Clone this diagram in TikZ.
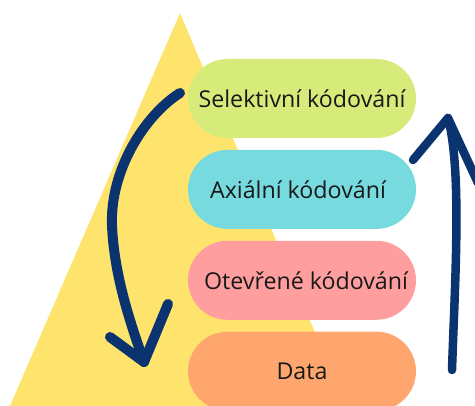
\documentclass[tikz,border=0pt]{standalone}
\usepackage{fontspec}
\setmainfont{Open Sans}
\usetikzlibrary{positioning}
\definecolor{pyrcol}{HTML}{FEE46C}
\definecolor{selcol}{HTML}{D6EB7A}
\definecolor{axcol}{HTML}{76DADF}
\definecolor{otcol}{HTML}{FE9E9E}
\definecolor{datacol}{HTML}{FEA66E}
\definecolor{arrcol}{HTML}{0B3370}

\begin{document}
\begin{tikzpicture}[x=1pt, y=-1pt, font=\fontsize{23.2}{27}\selectfont,
	    pill/.style={rectangle, rounded corners=39.5pt, minimum width=228pt, minimum height=79pt, inner sep=0pt, text=black!90},
	    brush/.style={draw=arrcol, line width=10pt, line cap=round, line join=round}]
	    \clip (0,0) rectangle (475,406);
	
		\fill[pyrcol] (180,13) -- (346,406) -- (10,406) -- cycle;  % pyramid
		
		\node[pill, fill=selcol] (sel) at (302,98.5) {Selektivní kódování};
		\node[pill, fill=axcol, below=11.5pt of sel] (ax) {Axiální kódování\kern8pt};
		\node[pill, fill=otcol, below=11.5pt of ax] (ot) {\kern8pt Otevřené kódování};
		\node[pill, fill=datacol, below=11.5pt of ot] (data) {Data};
		
		% down arrow
		\coordinate (dstart) at (180,93);
		\coordinate (dmid) at (112,225);
		\coordinate (dtip) at (144,362);
		\draw[brush] (dstart) .. controls (145,115) and (110,170) .. (dmid)
			.. controls (114,275) and (130,322) .. (dtip);
		\draw[brush] (110,337) -- (dtip) -- (168,304);
		
		% up arrow
		\coordinate (ustart) at (452,370);
		\coordinate (utip) at (448,118);
		\draw[brush, line width=8.5pt] (ustart) .. controls (455,280) and (462,170) .. (utip);
		\draw[brush, line width=8.5pt] (413,160) -- (utip) -- (478,183);
	  \end{tikzpicture}
\end{document}
